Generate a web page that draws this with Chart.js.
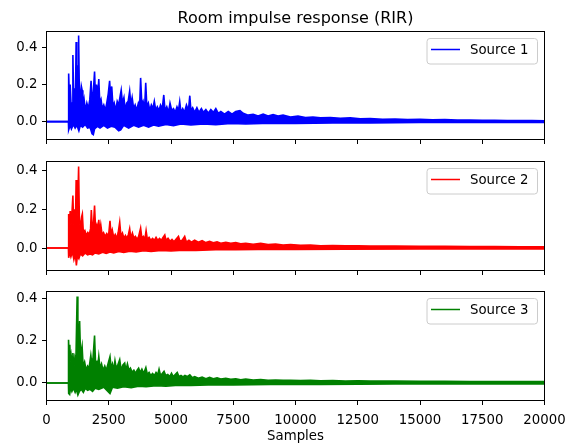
<!DOCTYPE html>
<html><head><meta charset="utf-8">
<script src="https://cdn.jsdelivr.net/npm/chart.js@4.4.0/dist/chart.umd.min.js"></script>
<style>
html,body{margin:0;padding:0;background:#fff;}
#wrap{position:relative;width:576px;height:445px;overflow:hidden;background:#fff;}
canvas{position:absolute;left:0;}
</style>
</head><body>
<div id="wrap">
<canvas id="c1" width="576" height="150" style="top:0px;width:576px;height:150px"></canvas>
<canvas id="c2" width="576" height="130" style="top:150px;width:576px;height:130px"></canvas>
<canvas id="c3" width="576" height="165" style="top:280px;width:576px;height:165px"></canvas>
</div>
<script>
// ---- text & ticks ----
const chartTitle = 'Room impulse response (RIR)';
const xAxisLabel = 'Samples';
const xTicks = [0, 2500, 5000, 7500, 10000, 12500, 15000, 17500, 20000];
const yTicks = [0, 0.2, 0.4];
const seriesLabels = ['Source 1', 'Source 2', 'Source 3'];
const seriesColors = ['#0000ff', '#ff0000', '#008000'];

// ---- envelope of each RIR: [sample, amplitude] ----
const source1Upper = [[0,0],[880,0],[890,0.26],[920,0.12],[950,0.2],[990,0.08],[1030,0.1],[1060,0.36],[1090,0.12],[1130,0.18],[1160,0.1],[1190,0.43],[1215,0.22],[1240,0.12],[1270,0.3],[1290,0.465],[1315,0.2],[1350,0.1],[1400,0.19],[1430,0.17],[1460,0.08],[1510,0.12],[1560,0.06],[1620,0.1],[1680,0.07],[1740,0.12],[1790,0.22],[1830,0.11],[1880,0.16],[1930,0.27],[1970,0.12],[2010,0.2],[2060,0.14],[2100,0.23],[2140,0.1],[2190,0.12],[2240,0.07],[2300,0.09],[2360,0.06],[2420,0.1],[2480,0.15],[2535,0.22],[2580,0.12],[2620,0.19],[2670,0.08],[2720,0.1],[2780,0.06],[2840,0.11],[2900,0.09],[2960,0.14],[3000,0.17],[3050,0.1],[3110,0.13],[3160,0.06],[3220,0.1],[3280,0.11],[3340,0.165],[3390,0.09],[3440,0.13],[3500,0.07],[3560,0.09],[3620,0.06],[3690,0.1],[3740,0.08],[3780,0.236],[3830,0.09],[3880,0.11],[3940,0.07],[3985,0.21],[4030,0.08],[4090,0.1],[4150,0.06],[4210,0.09],[4270,0.07],[4330,0.11],[4390,0.06],[4450,0.08],[4520,0.06],[4580,0.09],[4650,0.07],[4710,0.144],[4760,0.06],[4830,0.08],[4900,0.05],[4960,0.1],[5030,0.06],[5100,0.07],[5170,0.05],[5240,0.08],[5300,0.06],[5350,0.108],[5400,0.05],[5470,0.07],[5540,0.05],[5620,0.09],[5700,0.06],[5755,0.14],[5800,0.06],[5870,0.075],[5950,0.05],[6040,0.075],[6120,0.05],[6220,0.07],[6300,0.05],[6400,0.065],[6500,0.045],[6600,0.065],[6700,0.05],[6800,0.07],[6900,0.045],[7000,0.055],[7150,0.04],[7300,0.055],[7450,0.04],[7600,0.055],[7770,0.06],[7900,0.045],[8100,0.035],[8300,0.04],[8500,0.03],[8700,0.04],[8900,0.03],[9100,0.038],[9300,0.03],[9500,0.035],[9800,0.025],[10100,0.03],[10400,0.022],[10700,0.025],[11000,0.02],[11400,0.022],[11800,0.018],[12200,0.02],[12600,0.015],[13000,0.016],[13500,0.013],[14000,0.014],[14500,0.011],[15000,0.012],[15500,0.01],[16000,0.011],[16500,0.008],[17000,0.008],[17500,0.007],[18000,0.007],[18500,0.006],[19000,0.006],[19500,0.006],[20000,0.005]];
const source1Lower = [[0,0],[880,0],[890,-0.045],[950,-0.02],[1000,-0.04],[1080,-0.015],[1150,-0.035],[1220,-0.02],[1300,-0.05],[1360,-0.02],[1450,-0.03],[1550,-0.015],[1650,-0.035],[1750,-0.03],[1830,-0.065],[1880,-0.07],[1930,-0.04],[2050,-0.025],[2150,-0.035],[2300,-0.02],[2450,-0.035],[2600,-0.025],[2750,-0.03],[2900,-0.05],[2980,-0.045],[3100,-0.02],[3300,-0.035],[3500,-0.02],[3700,-0.03],[3900,-0.02],[4100,-0.03],[4300,-0.018],[4500,-0.025],[4800,-0.015],[5100,-0.022],[5400,-0.013],[5800,-0.018],[6300,-0.012],[6800,-0.016],[7400,-0.01],[8000,-0.013],[9000,-0.009],[10000,-0.01],[11500,-0.007],[13000,-0.007],[15000,-0.005],[17000,-0.004],[20000,-0.004]];

const source2Upper = [[0,0],[880,0],[890,0.175],[920,0.1],[950,0.19],[980,0.12],[1010,0.15],[1060,0.27],[1090,0.12],[1130,0.2],[1160,0.1],[1190,0.35],[1220,0.15],[1260,0.25],[1290,0.42],[1320,0.15],[1360,0.1],[1410,0.16],[1440,0.175],[1480,0.08],[1540,0.09],[1600,0.065],[1660,0.08],[1720,0.07],[1770,0.1],[1800,0.196],[1840,0.1],[1890,0.13],[1930,0.219],[1970,0.1],[2020,0.12],[2060,0.09],[2100,0.145],[2140,0.08],[2180,0.12],[2230,0.07],[2290,0.08],[2350,0.06],[2420,0.075],[2490,0.06],[2550,0.14],[2590,0.07],[2640,0.094],[2700,0.055],[2760,0.07],[2820,0.05],[2880,0.08],[2940,0.133],[2990,0.06],[3050,0.077],[3110,0.05],[3170,0.065],[3230,0.05],[3290,0.07],[3340,0.1],[3390,0.05],[3450,0.077],[3510,0.05],[3570,0.06],[3640,0.045],[3700,0.06],[3780,0.103],[3830,0.05],[3890,0.06],[3950,0.045],[4000,0.09],[4050,0.045],[4120,0.055],[4190,0.04],[4260,0.05],[4330,0.04],[4400,0.055],[4470,0.04],[4540,0.05],[4610,0.04],[4680,0.055],[4750,0.068],[4800,0.04],[4880,0.05],[4960,0.035],[5040,0.045],[5120,0.033],[5200,0.045],[5300,0.06],[5360,0.035],[5450,0.04],[5550,0.06],[5620,0.03],[5720,0.04],[5820,0.03],[5950,0.04],[6100,0.03],[6250,0.038],[6400,0.028],[6550,0.035],[6700,0.027],[6850,0.032],[7000,0.025],[7200,0.03],[7400,0.024],[7600,0.028],[7800,0.022],[8000,0.025],[8300,0.02],[8600,0.024],[8900,0.018],[9200,0.02],[9500,0.016],[9800,0.018],[10200,0.014],[10600,0.016],[11000,0.012],[11500,0.013],[12000,0.011],[12500,0.011],[13000,0.01],[14000,0.01],[15000,0.009],[16000,0.009],[17000,0.008],[18000,0.008],[19000,0.007],[20000,0.007]];
const source2Lower = [[0,0],[880,0],[890,-0.05],[930,-0.02],[980,-0.045],[1040,-0.02],[1100,-0.06],[1160,-0.03],[1200,-0.089],[1240,-0.04],[1300,-0.055],[1360,-0.03],[1450,-0.04],[1550,-0.025],[1650,-0.035],[1750,-0.03],[1850,-0.035],[1950,-0.025],[2100,-0.03],[2250,-0.022],[2400,-0.028],[2550,-0.02],[2700,-0.025],[2900,-0.018],[3100,-0.022],[3350,-0.016],[3600,-0.02],[3900,-0.014],[4200,-0.018],[4600,-0.012],[5000,-0.015],[5500,-0.011],[6000,-0.012],[6800,-0.009],[7600,-0.009],[8500,-0.007],[10000,-0.007],[12000,-0.006],[15000,-0.005],[20000,-0.005]];

const source3Upper = [[0,0],[880,0],[885,0.204],[910,0.12],[935,0.18],[960,0.1],[990,0.13],[1030,0.09],[1060,0.141],[1100,0.07],[1140,0.12],[1180,0.1],[1230,0.408],[1260,0.15],[1300,0.2],[1330,0.293],[1370,0.12],[1400,0.15],[1430,0.173],[1470,0.08],[1530,0.1],[1590,0.06],[1650,0.08],[1710,0.07],[1780,0.13],[1820,0.09],[1870,0.12],[1930,0.224],[1970,0.09],[2020,0.1],[2060,0.08],[2100,0.125],[2150,0.07],[2210,0.09],[2270,0.06],[2340,0.08],[2400,0.06],[2470,0.09],[2550,0.125],[2600,0.07],[2650,0.09],[2700,0.06],[2750,0.105],[2800,0.07],[2850,0.08],[2940,0.11],[3000,0.06],[3070,0.085],[3140,0.094],[3190,0.06],[3250,0.09],[3310,0.06],[3370,0.07],[3440,0.05],[3510,0.06],[3580,0.045],[3640,0.06],[3700,0.07],[3760,0.05],[3830,0.065],[3900,0.045],[3990,0.073],[4050,0.04],[4120,0.05],[4190,0.035],[4260,0.045],[4330,0.035],[4400,0.05],[4470,0.04],[4520,0.065],[4580,0.035],[4650,0.045],[4720,0.055],[4790,0.035],[4870,0.04],[4950,0.03],[5020,0.046],[5090,0.03],[5170,0.04],[5250,0.05],[5320,0.03],[5400,0.035],[5480,0.028],[5560,0.035],[5650,0.03],[5755,0.038],[5850,0.025],[5950,0.03],[6100,0.022],[6250,0.028],[6400,0.02],[6550,0.026],[6700,0.02],[6850,0.024],[7000,0.018],[7200,0.022],[7400,0.017],[7600,0.02],[7800,0.015],[8000,0.018],[8300,0.014],[8600,0.016],[8900,0.013],[9200,0.014],[9500,0.012],[9800,0.013],[10200,0.011],[10600,0.012],[11000,0.01],[11500,0.011],[12000,0.009],[12500,0.01],[13000,0.009],[14000,0.009],[15000,0.008],[16000,0.008],[17000,0.007],[18000,0.007],[19000,0.006],[20000,0.006]];
const source3Lower = [[0,0],[880,0],[890,-0.05],[930,-0.055],[970,-0.02],[1020,-0.04],[1080,-0.025],[1150,-0.045],[1200,-0.03],[1260,-0.057],[1320,-0.04],[1400,-0.03],[1480,-0.045],[1560,-0.025],[1650,-0.035],[1750,-0.03],[1850,-0.04],[1950,-0.025],[2100,-0.03],[2300,-0.02],[2550,-0.05],[2650,-0.02],[2850,-0.025],[3100,-0.018],[3400,-0.022],[3700,-0.015],[4000,-0.018],[4400,-0.013],[4800,-0.015],[5300,-0.011],[5800,-0.012],[6500,-0.009],[7500,-0.009],[9000,-0.007],[11000,-0.007],[14000,-0.005],[20000,-0.005]];

const upperEnvelopes = [source1Upper, source2Upper, source3Upper];
const lowerEnvelopes = [source1Lower, source2Lower, source3Lower];

// ---- layout (pixels / axis limits) ----
const panels = [
  {id:'c1', padTop:31.5, xHeight:10.5, yMin:-0.0965, yMax:0.4865, labels:false, title:true},
  {id:'c2', padTop:11.5, xHeight:9.5,  yMin:-0.1155, yMax:0.4455, labels:false, title:false},
  {id:'c3', padTop:11.5, xHeight:44.5, yMin:-0.083,  yMax:0.432,  labels:true,  title:false}
];
const FONT = '"DejaVu Sans", sans-serif';

const framePlugin = {
  id: 'mplFrame',
  afterDraw(chart, args, opts) {
    const ctx = chart.ctx, ca = chart.chartArea;
    ctx.save();
    ctx.strokeStyle = '#000';
    ctx.lineWidth = 1;
    ctx.strokeRect(ca.left, ca.top, ca.right - ca.left, ca.bottom - ca.top);
    // legend box
    const bx = ca.right - 117.5, by = ca.top + 7, bw = 110.5, bh = 25.5;
    ctx.beginPath();
    if (ctx.roundRect) ctx.roundRect(bx, by, bw, bh, 3); else ctx.rect(bx, by, bw, bh);
    ctx.fillStyle = 'rgba(255,255,255,0.8)';
    ctx.fill();
    ctx.strokeStyle = '#cccccc';
    ctx.stroke();
    ctx.beginPath();
    ctx.moveTo(ca.right - 113.5, ca.top + 18);
    ctx.lineTo(ca.right - 84.5, ca.top + 18);
    ctx.strokeStyle = opts.color;
    ctx.lineWidth = 1.5;
    ctx.stroke();
    ctx.fillStyle = '#000';
    ctx.font = '13.3px ' + FONT;
    ctx.textBaseline = 'alphabetic';
    ctx.textAlign = 'left';
    ctx.fillText(opts.label, ca.right - 74.5, ca.top + 22.8);
    if (opts.title) {
      ctx.font = '16px ' + FONT;
      ctx.textAlign = 'center';
      ctx.fillText(opts.title, (ca.left + ca.right) / 2, 22.5);
    }
    ctx.restore();
  }
};

panels.forEach((p, i) => {
  const color = seriesColors[i];
  const toPts = arr => arr.map(d => ({x: d[0], y: d[1]}));
  new Chart(document.getElementById(p.id), {
    type: 'line',
    data: {
      datasets: [
        {label: seriesLabels[i] + ' (lower)', data: toPts(lowerEnvelopes[i]), borderColor: color, backgroundColor: color, borderWidth: 1.6, pointRadius: 0, fill: false, tension: 0},
        {label: seriesLabels[i], data: toPts(upperEnvelopes[i]), borderColor: color, backgroundColor: color, borderWidth: 1.6, pointRadius: 0, fill: '-1', tension: 0}
      ]
    },
    options: {
      responsive: false,
      animation: false,
      devicePixelRatio: 1,
      events: [],
      layout: {padding: {top: p.padTop, right: 31.5, left: 0, bottom: 0}},
      plugins: {
        legend: {display: false},
        title: {display: false},
        tooltip: {enabled: false},
        mplFrame: {color: color, label: seriesLabels[i], title: p.title ? chartTitle : null}
      },
      scales: {
        x: {
          type: 'linear', min: 0, max: 20000,
          afterBuildTicks: s => { s.ticks = xTicks.map(v => ({value: v})); },
          afterFit: s => { s.height = p.xHeight; s.paddingLeft = 0; s.paddingRight = 0; s.paddingTop = 0; s.paddingBottom = 0; },
          border: {display: false},
          grid: {display: true, drawOnChartArea: false, drawTicks: true, tickLength: 4.5, color: '#000', tickWidth: 1},
          ticks: {display: p.labels, color: '#000', padding: 8, maxRotation: 0, autoSkip: false,
                  font: {family: FONT, size: 13.3}, callback: v => String(v)},
          title: {display: p.labels, text: xAxisLabel, color: '#000', font: {family: FONT, size: 13.3}, padding: {top: 0, bottom: 0}}
        },
        y: {
          type: 'linear', min: p.yMin, max: p.yMax,
          afterBuildTicks: s => { s.ticks = yTicks.map(v => ({value: v})); },
          afterFit: s => { s.width = 46.5; s.paddingTop = 0; s.paddingBottom = 0; s.paddingLeft = 0; s.paddingRight = 0; },
          border: {display: false},
          grid: {display: true, drawOnChartArea: false, drawTicks: true, tickLength: 4.5, color: '#000', tickWidth: 1},
          ticks: {color: '#000', padding: 4.5, font: {family: FONT, size: 13.3}, callback: v => Number(v).toFixed(1)}
        }
      }
    },
    plugins: [framePlugin]
  });
});
</script>
</body></html>
